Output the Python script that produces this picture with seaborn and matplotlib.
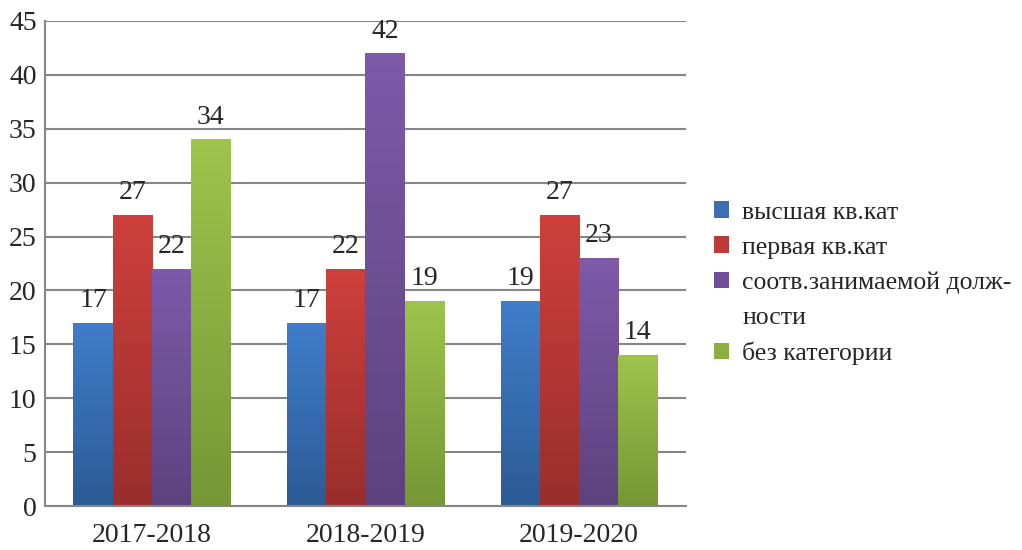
import matplotlib
matplotlib.use("Agg")
import matplotlib.pyplot as plt
import seaborn as sns
import numpy as np
import pandas as pd
from matplotlib.colors import LinearSegmentedColormap
from matplotlib.patches import Patch

# данные с диаграммы
years = ['2017-2018', '2018-2019', '2019-2020']
categories = ['высшая кв.кат', 'первая кв.кат',
              'соотв.занимаемой долж-\nности', 'без категории']
vysshaya = [17, 17, 19]
pervaya = [27, 22, 27]
sootv = [22, 42, 23]
bez_kat = [34, 19, 14]

# верх / низ градиента для каждого ряда
top_colors = ['#407DCA', '#CE403C', '#7E5AA8', '#9EC44C']
bottom_colors = ['#2C5B95', '#992E2C', '#5D427F', '#759735']
mid_colors = ['#3A6FB4', '#BE3A36', '#6F4E97', '#8BAF42']

sns.set_style("white")
plt.rcParams['font.family'] = ['Liberation Serif', 'DejaVu Serif']
plt.rcParams['font.size'] = 20

df = pd.DataFrame({
    'Год': years * 4,
    'Категория': np.repeat(categories, 3),
    'Значение': vysshaya + pervaya + sootv + bez_kat,
})

fig = plt.figure(figsize=(10.22, 5.5), dpi=100)
ax = fig.add_axes([0.044, 0.08, 0.627, 0.882])

sns.barplot(data=df, x='Год', y='Значение', hue='Категория',
            hue_order=categories, order=years, palette=mid_colors,
            width=0.733, ax=ax, legend=False, errorbar=None,
            saturation=1, linewidth=0)

ax.set_ylim(0, 45)
ax.set_xlim(-0.5, 2.5)
ax.set_yticks(range(0, 46, 5))
ax.set_xlabel('')
ax.set_ylabel('')
ax.yaxis.grid(True, color='#868686', linewidth=1.5)
ax.set_axisbelow(True)
for s in ['top', 'right']:
    ax.spines[s].set_visible(False)
for s in ['left', 'bottom']:
    ax.spines[s].set_color('#868686')
    ax.spines[s].set_linewidth(1.5)
ax.tick_params(axis='both', length=0, labelsize=20, pad=6)
ax.tick_params(axis='x', pad=12)

# градиентная заливка столбцов
grad = np.linspace(1, 0, 256).reshape(-1, 1)
for i, cont in enumerate(ax.containers):
    cmap = LinearSegmentedColormap.from_list('g%d' % i, [bottom_colors[i], top_colors[i]])
    for bar in cont:
        x0, y0 = bar.get_x(), bar.get_y()
        w, h = bar.get_width(), bar.get_height()
        bar.set_facecolor('none')
        im = ax.imshow(grad, cmap=cmap, aspect='auto',
                       extent=[x0, x0 + w, y0, y0 + h], zorder=2)
        im.set_clip_path(bar)
        ax.annotate(f'{int(h)}', (x0 + w / 2, h), xytext=(0, 7),
                    textcoords='offset points', ha='center', va='bottom',
                    fontsize=20)
ax.set_xlim(-0.5, 2.5)
ax.set_ylim(0, 45)

# легенда: перенос "долж-/ности" как в оригинале, маркер у первой строки
labels, handles = [], []
for c, name in zip(mid_colors, categories):
    parts = name.split('\n')
    labels.append(parts[0])
    handles.append(Patch(facecolor=c, edgecolor='none'))
    for extra in parts[1:]:
        labels.append(extra)
        handles.append(Patch(facecolor='none', edgecolor='none'))

leg = fig.legend(handles, labels, loc='upper left',
                 bbox_to_anchor=(0.676, 0.676), frameon=False, fontsize=18.5,
                 handlelength=0.6, handleheight=0.6, handletextpad=0.5,
                 labelspacing=0.5)

fig.savefig('out.png', dpi=100)
